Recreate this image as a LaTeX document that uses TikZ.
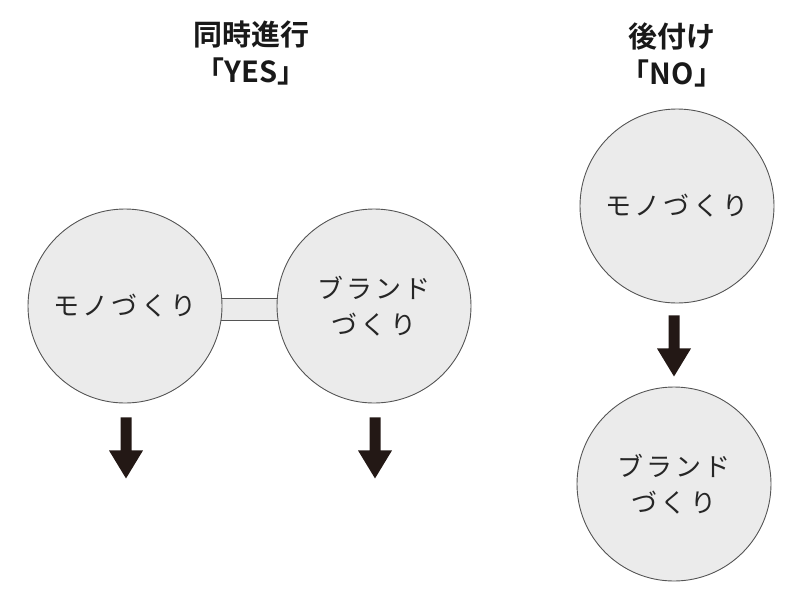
\documentclass[tikz,border=0pt]{standalone}
\usepackage{fontspec}
\newfontfamily\cjk{Noto Sans CJK JP}[BoldFont={Noto Sans CJK JP Bold}]
\newfontfamily\cjkl{Noto Sans CJK JP}[LetterSpace=12]
\usetikzlibrary{backgrounds}
\definecolor{circfill}{HTML}{EBEBEB}
\definecolor{circline}{HTML}{555555}
\definecolor{arrowcol}{HTML}{231815}
\tikzset{
  bubble/.style={circle, draw=circline, line width=0.9pt, fill=circfill, minimum size=194pt, inner sep=0pt, align=center, font=\fontsize{26pt}{36pt}\selectfont\cjkl, text=black!85},
  title/.style={align=center, font=\fontsize{29pt}{37pt}\selectfont\cjk\bfseries, text=black!90},
  bridge/.style={draw=circline, line width=0.9pt, fill=circfill},
  fatarrow/.style={fill=arrowcol}
}
\newcommand\downarrowshape[1]{%
  \fill[fatarrow] (#1) ++(-5.5,0) -- ++(0,33) -- ++(-11.5,0) -- ++(17,28) -- ++(17,-28) -- ++(-11.5,0) -- ++(0,-33) -- cycle;}
\begin{document}
\begin{tikzpicture}[x=1pt,y=-1pt]
\useasboundingbox (0,0) rectangle (800,600);
% titles
\node[title] (t1) at (251,53) {同時進行\\「YES」};
\node[title] (t2) at (672,55) {後付け\\「NO」};
% circles
\node[bubble] (m1) at (125,306) {モノづくり};
\node[bubble] (b1) at (374,306) {ブランド\\づくり};
\node[bubble] (m2) at (677,206) {モノづくり};
\node[bubble] (b2) at (674,484) {ブランド\\づくり};
% bridge between circles
\begin{scope}[on background layer]
\draw[bridge] ([yshift=8pt]m1.center) rectangle ([yshift=-14pt]b1.center);
\end{scope}
% arrows
\coordinate (a1) at ([xshift=1pt,yshift=-14pt]m1.south);
\coordinate (a2) at ([xshift=1pt,yshift=-14pt]b1.south);
\coordinate (a3) at ([xshift=-3pt,yshift=-12pt]m2.south);
\downarrowshape{a1}
\downarrowshape{a2}
\downarrowshape{a3}
\end{tikzpicture}
\end{document}
